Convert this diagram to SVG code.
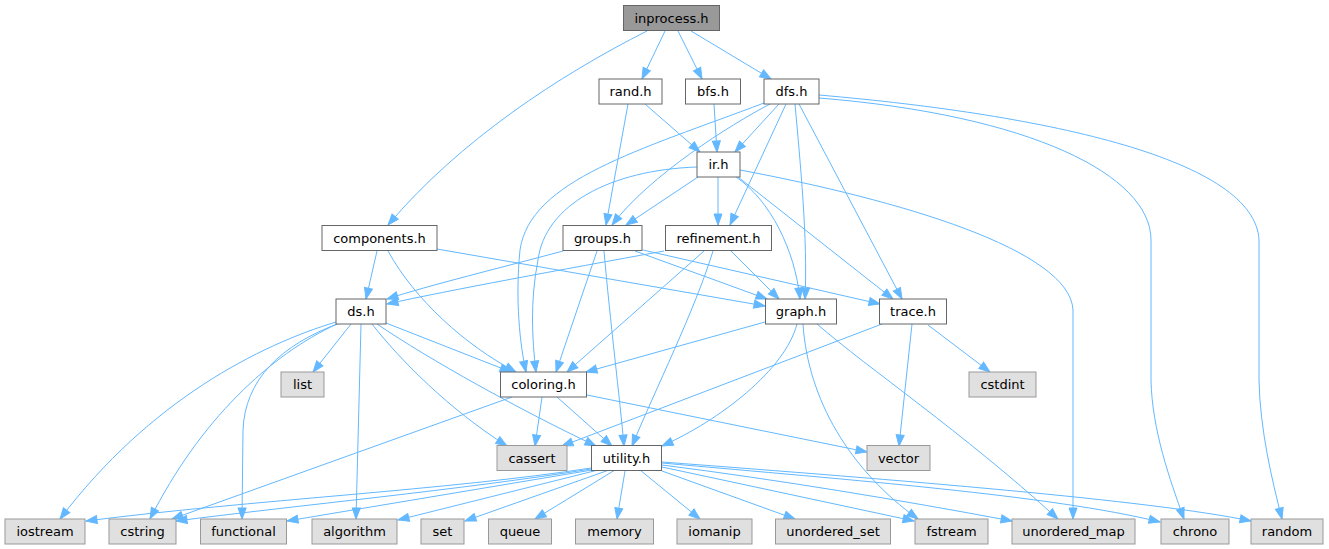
<svg xmlns="http://www.w3.org/2000/svg" width="1329" height="549" viewBox="0 0 1329 549">
<style>
.n rect{fill:#ffffff;stroke:#666666;stroke-width:1}
.r rect{fill:#999999;stroke:#666666;stroke-width:1}
.s rect{fill:#e0e0e0;stroke:#999999;stroke-width:1}
text{font-family:"DejaVu Sans","Liberation Sans",sans-serif;font-size:13px;fill:#000000;text-anchor:middle}
#edges path{fill:none;stroke:#63b8ff;stroke-width:1;marker-end:url(#ah)}
</style>
<defs>
<marker id="ah" markerWidth="12" markerHeight="10" refX="11" refY="4.5" orient="auto" markerUnits="userSpaceOnUse" overflow="visible">
<path d="M0,0.5 L11,4.5 L0,8.5 z" fill="#63b8ff" stroke="#63b8ff" stroke-width="1"/>
</marker>
</defs>
<rect width="1329" height="549" fill="#ffffff"/>
<g id="edges">
<path d="M647,31 C560,75 460,140 388,225"/>
<path d="M665,31 L642,79"/>
<path d="M678,31 L702,79"/>
<path d="M691,31 L771,79"/>
<path d="M645,104 L700,152"/>
<path d="M628,104 L606,225"/>
<path d="M714,104 L717,152"/>
<path d="M779,104 L735,152"/>
<path d="M770,104 C730,125 650,175 612,225"/>
<path d="M764,103 C640,150 530,180 520,250 C515,300 520,345 526,372"/>
<path d="M786,104 L730,225"/>
<path d="M795,104 C800,160 808,240 805,299"/>
<path d="M799,104 L902,299"/>
<path d="M819,98 C1030,115 1151,175 1151,240 L1151,380 C1152,430 1170,480 1184,519"/>
<path d="M819,95 C1050,115 1255,160 1259,240 L1259,380 C1260,430 1272,480 1282,519"/>
<path d="M697,167 C610,170 545,205 538,260 C530,300 532,340 536,372"/>
<path d="M698,177 L626,225"/>
<path d="M718,177 L718,225"/>
<path d="M736,177 C770,200 795,250 800,299"/>
<path d="M738,177 L893,299"/>
<path d="M740,170 C900,200 1070,250 1073,310 L1073,519"/>
<path d="M377,251 L366,299"/>
<path d="M388,251 C415,300 465,345 516,372"/>
<path d="M437,249 L765,306"/>
<path d="M563,251 C500,268 430,285 387,299"/>
<path d="M597,251 L556,372"/>
<path d="M604,251 C610,320 620,400 624,446"/>
<path d="M635,251 L767,299"/>
<path d="M643,250 L880,304"/>
<path d="M664,251 C560,270 450,290 387,304"/>
<path d="M704,251 L567,372"/>
<path d="M713,251 C695,310 655,390 632,446"/>
<path d="M731,251 L779,299"/>
<path d="M351,324 L313,372"/>
<path d="M336,322 C260,345 150,400 60,519"/>
<path d="M337,324 C270,355 200,420 150,519"/>
<path d="M340,323 C280,345 245,380 243,430 L242,519"/>
<path d="M361,324 L356,519"/>
<path d="M372,324 C400,360 450,410 507,446"/>
<path d="M386,323 L511,372"/>
<path d="M377,324 C430,360 520,410 596,446"/>
<path d="M765,322 L586,372"/>
<path d="M797,324 C785,370 720,420 662,446"/>
<path d="M803,324 C808,400 850,470 918,519"/>
<path d="M817,324 C870,370 960,430 1058,519"/>
<path d="M882,324 L562,446"/>
<path d="M912,324 L899,446"/>
<path d="M928,325 L990,372"/>
<path d="M542,397 L535,446"/>
<path d="M557,397 L612,446"/>
<path d="M587,395 L867,452"/>
<path d="M512,397 L172,519"/>
<path d="M591,468 C450,490 250,500 86,521"/>
<path d="M591,469 C460,490 300,505 176,521"/>
<path d="M592,470 L287,521"/>
<path d="M598,470 L398,520"/>
<path d="M609,470 L465,521"/>
<path d="M615,470 L535,519"/>
<path d="M625,471 L617,519"/>
<path d="M640,470 L700,519"/>
<path d="M662,471 L795,519"/>
<path d="M662,467 L914,521"/>
<path d="M662,465 C780,480 900,500 1012,521"/>
<path d="M662,463 C850,480 1050,495 1160,522"/>
<path d="M662,462 C900,480 1150,500 1251,521"/>
</g>
<g id="inprocess_h" class="r"><rect x="623.5" y="5.5" width="96" height="25"/><text x="671.5" y="22.5">inprocess.h</text></g>
<g id="rand_h" class="n"><rect x="599" y="79" width="63" height="25"/><text x="630.5" y="96">rand.h</text></g>
<g id="bfs_h" class="n"><rect x="685.5" y="79" width="55" height="25"/><text x="713" y="96">bfs.h</text></g>
<g id="dfs_h" class="n"><rect x="764" y="79" width="55" height="25"/><text x="791.5" y="96">dfs.h</text></g>
<g id="ir_h" class="n"><rect x="697" y="152" width="43" height="25"/><text x="718.5" y="169">ir.h</text></g>
<g id="components_h" class="n"><rect x="322" y="225.5" width="115" height="25"/><text x="379.5" y="242.5">components.h</text></g>
<g id="groups_h" class="n"><rect x="563" y="225.5" width="79" height="25"/><text x="602.5" y="242.5">groups.h</text></g>
<g id="refinement_h" class="n"><rect x="665.5" y="225.5" width="106" height="25"/><text x="718.5" y="242.5">refinement.h</text></g>
<g id="ds_h" class="n"><rect x="336" y="299" width="50" height="25"/><text x="361" y="316">ds.h</text></g>
<g id="graph_h" class="n"><rect x="765.5" y="299" width="71" height="25"/><text x="801" y="316">graph.h</text></g>
<g id="trace_h" class="n"><rect x="879.5" y="299" width="67" height="25"/><text x="913" y="316">trace.h</text></g>
<g id="list" class="s"><rect x="281" y="372" width="43" height="25"/><text x="302.5" y="389">list</text></g>
<g id="coloring_h" class="n"><rect x="500.5" y="372" width="86" height="25"/><text x="543.5" y="389">coloring.h</text></g>
<g id="cstdint" class="s"><rect x="969" y="372" width="67" height="25"/><text x="1002.5" y="389">cstdint</text></g>
<g id="cassert" class="s"><rect x="497" y="445.5" width="70" height="25"/><text x="532" y="462.5">cassert</text></g>
<g id="utility_h" class="n"><rect x="591.5" y="445.5" width="70" height="25"/><text x="626.5" y="462.5">utility.h</text></g>
<g id="vector" class="s"><rect x="867" y="445.5" width="63" height="25"/><text x="898.5" y="462.5">vector</text></g>
<g id="iostream" class="s"><rect x="5" y="519" width="80" height="25"/><text x="45" y="536">iostream</text></g>
<g id="cstring" class="s"><rect x="109" y="519" width="67" height="25"/><text x="142.5" y="536">cstring</text></g>
<g id="functional" class="s"><rect x="200.5" y="519" width="86" height="25"/><text x="243.5" y="536">functional</text></g>
<g id="algorithm" class="s"><rect x="312" y="519" width="85" height="25"/><text x="354.5" y="536">algorithm</text></g>
<g id="set" class="s"><rect x="421" y="519" width="43" height="25"/><text x="442.5" y="536">set</text></g>
<g id="queue" class="s"><rect x="488.5" y="519" width="63" height="25"/><text x="520" y="536">queue</text></g>
<g id="memory" class="s"><rect x="575.5" y="519" width="78" height="25"/><text x="614.5" y="536">memory</text></g>
<g id="iomanip" class="s"><rect x="677" y="519" width="75" height="25"/><text x="714.5" y="536">iomanip</text></g>
<g id="unordered_set" class="s"><rect x="775.5" y="519" width="115" height="25"/><text x="833" y="536">unordered_set</text></g>
<g id="fstream" class="s"><rect x="915" y="519" width="73" height="25"/><text x="951.5" y="536">fstream</text></g>
<g id="unordered_map" class="s"><rect x="1012" y="519" width="123" height="25"/><text x="1073.5" y="536">unordered_map</text></g>
<g id="chrono" class="s"><rect x="1161" y="519" width="68" height="25"/><text x="1195" y="536">chrono</text></g>
<g id="random" class="s"><rect x="1251" y="519" width="72" height="25"/><text x="1287" y="536">random</text></g>
</svg>
